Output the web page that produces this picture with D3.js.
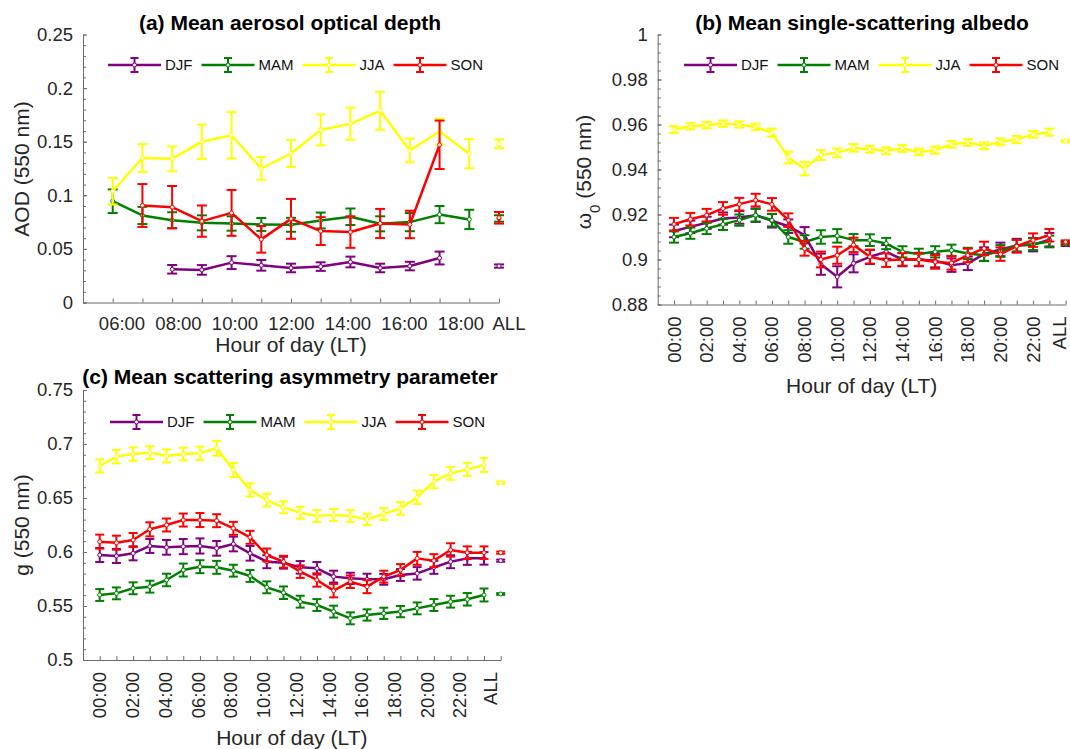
<!DOCTYPE html>
<html><head><meta charset="utf-8">
<script src="https://cdn.jsdelivr.net/npm/d3@7"></script>
<style>
body{margin:0;background:#fff}
svg{display:block}
text{font-family:"Liberation Sans",Arial,Helvetica,sans-serif}
</style>
</head><body>
<svg id="chart" width="1070" height="749"></svg>
<script>
// ---------------- DATA ----------------
const seasons = ["DJF", "MAM", "JJA", "SON"];
const seasonColors = ["#800080", "#008000", "#FFFF00", "#FF0000"];

// (a) AOD, hours 06..18 + ALL
const hoursA = ["06:00","07:00","08:00","09:00","10:00","11:00","12:00","13:00","14:00","15:00","16:00","17:00","18:00","ALL"];
const aodDJF = [null,null,0.031,0.0304,0.0372,0.0347,0.0322,0.0335,0.0378,0.0322,0.034,0.0415,null,0.034];
const aodMAM = [0.0945,0.0812,0.0768,0.0743,0.0737,0.0728,0.0725,0.0765,0.080,0.0734,0.075,0.082,0.0775,0.0784];
const aodJJA = [0.1038,0.1348,0.134,0.150,0.156,0.125,0.139,0.161,0.1667,0.1788,0.1419,0.1595,0.1388,0.148];
const aodSON = [null,0.0905,0.0889,0.0759,0.0836,0.0589,0.078,0.0666,0.0657,0.0737,0.0728,0.1471,null,0.079];
const aodErrDJF = [null,null,0.004,0.0045,0.006,0.005,0.004,0.004,0.005,0.004,0.004,0.006,null,0.0015];
const aodErrMAM = [0.011,0.008,0.0074,0.007,0.0067,0.006,0.0065,0.0074,0.0077,0.007,0.0085,0.008,0.009,0.003];
const aodErrJJA = [0.0124,0.013,0.0116,0.016,0.0217,0.0105,0.0125,0.0144,0.015,0.0177,0.011,0.012,0.0136,0.004];
const aodErrSON = [null,0.020,0.0198,0.0146,0.0214,0.0124,0.0186,0.013,0.0147,0.0136,0.0128,0.0226,null,0.0054];
const aodTicks = [0, 0.05, 0.1, 0.15, 0.2, 0.25];

// (b) SSA and (c) g, hours 00..23 + ALL
const hoursDay = ["00:00","01:00","02:00","03:00","04:00","05:00","06:00","07:00","08:00","09:00","10:00","11:00",
                  "12:00","13:00","14:00","15:00","16:00","17:00","18:00","19:00","20:00","21:00","22:00","23:00","ALL"];
const ssaDJF = [0.9127,0.9145,0.9163,0.9182,0.9187,0.9197,0.9172,0.9148,0.9108,0.8979,0.8923,0.8983,0.9012,0.9034,0.900,0.900,0.8995,0.8975,0.8983,0.9024,0.9045,0.9062,0.9066,0.9088,0.9068];
const ssaMAM = [0.910,0.9117,0.9138,0.9156,0.9175,0.9197,0.9175,0.910,0.9078,0.910,0.9105,0.9086,0.9086,0.9071,0.9034,0.9024,0.9034,0.9041,0.9027,0.9019,0.9038,0.9062,0.9068,0.908,0.9072];
const ssaJJA = [0.9578,0.9592,0.9597,0.9604,0.960,0.9589,0.9564,0.9453,0.9404,0.9464,0.9474,0.9496,0.949,0.9483,0.9493,0.9478,0.9486,0.9512,0.952,0.9505,0.9523,0.9533,0.9556,0.9566,0.9526];
const ssaSON = [0.9157,0.9179,0.9197,0.9227,0.9246,0.9264,0.9245,0.9175,0.9049,0.900,0.9019,0.9065,0.9012,0.8997,0.900,0.900,0.8989,0.8985,0.9018,0.9049,0.9024,0.9059,0.9086,0.9108,0.9078];
const ssaErrDJF = [0.0028,0.0028,0.0027,0.0027,0.0028,0.003,0.003,0.003,0.0036,0.0047,0.0047,0.004,0.0032,0.003,0.003,0.003,0.003,0.003,0.003,0.003,0.003,0.003,0.003,0.003,0.0008];
const ssaErrMAM = [0.0025,0.0025,0.0025,0.0025,0.0025,0.0028,0.0028,0.003,0.003,0.003,0.003,0.0027,0.0026,0.0025,0.0025,0.0024,0.0025,0.0025,0.0025,0.0026,0.0026,0.0026,0.0026,0.0026,0.0007];
const ssaErrJJA = [0.0015,0.0014,0.0014,0.0014,0.0014,0.0014,0.0018,0.0026,0.003,0.0022,0.002,0.0017,0.0015,0.0015,0.0015,0.0015,0.0016,0.0015,0.0015,0.0015,0.0015,0.0016,0.0015,0.0016,0.0004];
const ssaErrSON = [0.0028,0.0028,0.0028,0.0028,0.0028,0.0028,0.0028,0.003,0.0032,0.0035,0.0038,0.0032,0.003,0.003,0.0028,0.0028,0.003,0.003,0.003,0.003,0.003,0.0028,0.003,0.0028,0.0007];
const ssaTicks = [0.88, 0.90, 0.92, 0.94, 0.96, 0.98, 1.0];

const gDJF = [0.5972,0.5963,0.5988,0.6056,0.6043,0.605,0.6056,0.6034,0.6074,0.5988,0.591,0.5901,0.5858,0.5849,0.5772,0.5756,0.5747,0.5747,0.5787,0.5802,0.5858,0.591,0.5941,0.5941,0.592];
const gMAM = [0.5602,0.5617,0.5664,0.5679,0.5741,0.5833,0.5864,0.5858,0.5827,0.5778,0.5673,0.5623,0.554,0.5509,0.5448,0.5386,0.5417,0.5432,0.5448,0.5478,0.5509,0.554,0.5562,0.5602,0.5611];
const gJJA = [0.6796,0.6883,0.6907,0.692,0.6889,0.6907,0.6914,0.696,0.6759,0.6574,0.6481,0.6414,0.6364,0.6333,0.6343,0.6333,0.6302,0.6352,0.6404,0.6506,0.6651,0.6728,0.6765,0.6806,0.6642];
const gSON = [0.6096,0.6086,0.6111,0.621,0.625,0.6296,0.6296,0.629,0.6219,0.6136,0.5972,0.591,0.5818,0.5741,0.5642,0.5725,0.5679,0.5772,0.5833,0.5941,0.592,0.6019,0.5994,0.5994,0.5994];
const gErrDJF = [0.0065,0.0065,0.0065,0.0065,0.0068,0.007,0.007,0.0068,0.0068,0.0068,0.006,0.0055,0.0058,0.0058,0.0055,0.0052,0.0052,0.005,0.0055,0.0058,0.006,0.006,0.006,0.0058,0.001];
const gErrMAM = [0.0055,0.0055,0.0055,0.0055,0.0058,0.006,0.006,0.006,0.0055,0.0055,0.0055,0.0058,0.0055,0.0055,0.0055,0.0055,0.0052,0.0052,0.0052,0.0055,0.0055,0.0055,0.0058,0.006,0.0008];
const gErrJJA = [0.006,0.0062,0.0062,0.006,0.006,0.0058,0.0062,0.0068,0.0065,0.006,0.0058,0.0055,0.0055,0.0055,0.0055,0.0055,0.0052,0.0055,0.0058,0.0062,0.0062,0.006,0.006,0.0065,0.001];
const gErrSON = [0.0065,0.0065,0.0065,0.0065,0.006,0.006,0.0065,0.006,0.006,0.006,0.006,0.0055,0.0058,0.0062,0.0062,0.0058,0.006,0.0055,0.0055,0.006,0.006,0.0062,0.0058,0.0058,0.001];
const gTicks = [0.5, 0.55, 0.6, 0.65, 0.7, 0.75];

// ---------------- DRAW ----------------
const svg = d3.select("#chart");
const AX = "#6b6b6b", TXT = "#262626";

function fmt(v){ return String(+v.toFixed(3)); }

function drawPanel(cfg){
  const n = cfg.cats.length;
  const g = svg.append("g");
  const x = d3.scaleLinear().domain([-1, n - 1]).range([cfg.left, cfg.right]);
  const y = d3.scaleLinear().domain([cfg.yTicks[0], cfg.yTicks[cfg.yTicks.length - 1]]).range([cfg.bottom, cfg.top]);

  // minor y ticks
  const d0 = y.domain()[0], d1 = y.domain()[1];
  const nMinor = Math.round((d1 - d0) / cfg.minorStep);
  const minorVals = d3.range(nMinor + 1).map(k => d0 + k * cfg.minorStep);
  g.append("g").attr("transform", `translate(${cfg.left},0)`)
    .call(d3.axisLeft(y).tickValues(minorVals).tickSize(-3).tickSizeOuter(0).tickFormat(""))
    .call(a => a.select(".domain").remove())
    .call(a => a.selectAll("line").attr("stroke", AX));

  // major y axis
  const ya = g.append("g").attr("transform", `translate(${cfg.left},0)`)
    .call(d3.axisLeft(y).tickValues(cfg.yTicks).tickSize(-4).tickSizeOuter(0).tickPadding(10).tickFormat(fmt));
  ya.select(".domain").attr("stroke", AX);
  ya.selectAll("line").attr("stroke", AX);
  ya.selectAll("text").attr("fill", TXT).style("font-size", "18.5px").style("font-family", '"Liberation Sans",Arial,sans-serif');

  // x axis
  const xa = g.append("g").attr("transform", `translate(0,${cfg.bottom})`)
    .call(d3.axisBottom(x).tickValues(d3.range(n)).tickSize(-4).tickSizeOuter(0).tickFormat(""));
  xa.select(".domain").attr("stroke", AX);
  xa.selectAll("line").attr("stroke", AX);

  // x tick labels
  const labIdx = d3.range(n).filter(i => cfg.cats[i] === "ALL" || (+cfg.cats[i].slice(0, 2)) % 2 === 0);
  labIdx.forEach(i => {
    const px = cfg.labelX ? cfg.labelX(i, x) : x(i);
    if (cfg.rotate) {
      g.append("text").attr("transform", `translate(${px},${cfg.bottom + 12}) rotate(-90)`)
        .attr("text-anchor", "end").attr("dy", "0.35em")
        .attr("fill", TXT).style("font-size", "18.5px").text(cfg.cats[i]);
    } else {
      g.append("text").attr("x", px).attr("y", cfg.bottom + 14).attr("dy", "0.71em")
        .attr("text-anchor", "middle").attr("fill", TXT).style("font-size", "18.5px").text(cfg.cats[i]);
    }
  });

  // series
  cfg.series.forEach(s => {
    const pts = s.values.map((v, i) => ({i, v, e: s.errors[i]}));
    const hourPts = pts.slice(0, n - 1);
    g.append("path").datum(hourPts)
      .attr("d", d3.line().defined(d => d.v != null).x(d => x(d.i)).y(d => y(d.v)))
      .attr("fill", "none").attr("stroke", s.color).attr("stroke-width", 2.5).attr("stroke-linejoin", "round");
    const valid = pts.filter(d => d.v != null);
    const eb = g.append("g").attr("stroke", s.color).attr("stroke-width", 2);
    const cw = cfg.capW / 2;
    valid.forEach(d => {
      const xt = x(d.i), y1 = y(d.v - d.e), y2 = y(d.v + d.e);
      eb.append("line").attr("x1", xt).attr("x2", xt).attr("y1", y1).attr("y2", y2);
      eb.append("line").attr("x1", xt - cw).attr("x2", xt + cw).attr("y1", y1).attr("y2", y1);
      eb.append("line").attr("x1", xt - cw).attr("x2", xt + cw).attr("y1", y2).attr("y2", y2);
    });
    g.append("g").selectAll("circle").data(valid).join("circle")
      .attr("cx", d => x(d.i)).attr("cy", d => y(d.v)).attr("r", 2)
      .attr("fill", "#fff").attr("stroke", s.color).attr("stroke-width", 1);
  });

  // legend
  const lg = g.append("g").attr("transform", `translate(${cfg.legendX},${cfg.legendY})`);
  let cx = 0;
  cfg.series.forEach(s => {
    const it = lg.append("g").attr("transform", `translate(${cx},0)`);
    it.append("line").attr("x1", 0).attr("x2", 53).attr("y1", 0).attr("y2", 0).attr("stroke", s.color).attr("stroke-width", 2.5);
    it.append("line").attr("x1", 26.5).attr("x2", 26.5).attr("y1", -7).attr("y2", 7).attr("stroke", s.color).attr("stroke-width", 2);
    it.append("line").attr("x1", 22.5).attr("x2", 30.5).attr("y1", -7).attr("y2", -7).attr("stroke", s.color).attr("stroke-width", 2);
    it.append("line").attr("x1", 22.5).attr("x2", 30.5).attr("y1", 7).attr("y2", 7).attr("stroke", s.color).attr("stroke-width", 2);
    it.append("circle").attr("cx", 26.5).attr("cy", 0).attr("r", 2).attr("fill", "#fff").attr("stroke", s.color);
    const t = it.append("text").attr("x", 57).attr("y", 0).attr("dy", "0.36em")
      .attr("fill", "#111").style("font-size", "15px").text(s.name);
    cx += 57 + t.node().getComputedTextLength() + 9;
  });

  // title
  g.append("text").attr("x", cfg.titleX).attr("y", cfg.titleY).attr("text-anchor", "middle")
    .attr("fill", "#000").style("font-size", "21px").style("font-weight", "bold").text(cfg.title);

  // x label
  g.append("text").attr("x", (cfg.left + cfg.right) / 2 + (cfg.xLabelDx || 0)).attr("y", cfg.xLabelY)
    .attr("text-anchor", "middle").attr("fill", TXT).style("font-size", "21px").text("Hour of day (LT)");

  // y label
  const yl = g.append("text").attr("transform", `translate(${cfg.yLabelX},${cfg.yLabelY}) rotate(-90)`)
    .attr("text-anchor", "middle").attr("fill", TXT).style("font-size", "21px");
  cfg.yLabel(yl);
}

function mk(vals, errs){ return seasons.map((s, k) => ({name: s, color: seasonColors[k], values: vals[k], errors: errs[k]})); }

// (a)
drawPanel({
  cats: hoursA, left: 83, right: 499, top: 34.5, bottom: 302.5,
  yTicks: aodTicks, minorStep: 0.01, capW: 10, rotate: false,
  labelX: (i, x) => hoursA[i] === "ALL" ? 509 : 122 + (i / 12) * (461 - 122),
  series: mk([aodDJF, aodMAM, aodJJA, aodSON], [aodErrDJF, aodErrMAM, aodErrJJA, aodErrSON]),
  legendX: 108, legendY: 65,
  title: "(a) Mean aerosol optical depth", titleX: 290, titleY: 30,
  xLabelY: 352, yLabelX: 29, yLabelY: 169,
  yLabel: t => t.text("AOD (550 nm)")
});

// (b)
drawPanel({
  cats: hoursDay, left: 657.7, right: 1065.7, top: 34.5, bottom: 304.5,
  yTicks: ssaTicks, minorStep: 0.004, capW: 10, rotate: true,
  labelX: (i, x) => Math.min(x(i), 1060),
  series: mk([ssaDJF, ssaMAM, ssaJJA, ssaSON], [ssaErrDJF, ssaErrMAM, ssaErrJJA, ssaErrSON]),
  legendX: 684, legendY: 65,
  title: "(b) Mean single-scattering albedo", titleX: 862, titleY: 30,
  xLabelY: 393, yLabelX: 591, yLabelY: 172,
  yLabel: t => { t.append("tspan").text("\u03c9"); t.append("tspan").attr("baseline-shift", "sub").style("font-size", "15px").text("0"); t.append("tspan").text(" (550 nm)"); }
});

// (c)
drawPanel({
  cats: hoursDay, left: 83, right: 500.7, top: 390, bottom: 660,
  yTicks: gTicks, minorStep: 0.01, capW: 9, rotate: true,
  labelX: (i, x) => hoursDay[i] === "ALL" ? 491 : 100 + (i / 22) * (460 - 100),
  series: mk([gDJF, gMAM, gJJA, gSON], [gErrDJF, gErrMAM, gErrJJA, gErrSON]),
  legendX: 110, legendY: 422,
  title: "(c) Mean scattering asymmetry parameter", titleX: 290, titleY: 384,
  xLabelY: 745, yLabelX: 29, yLabelY: 525,
  yLabel: t => t.text("g (550 nm)")
});
</script>
</body></html>
